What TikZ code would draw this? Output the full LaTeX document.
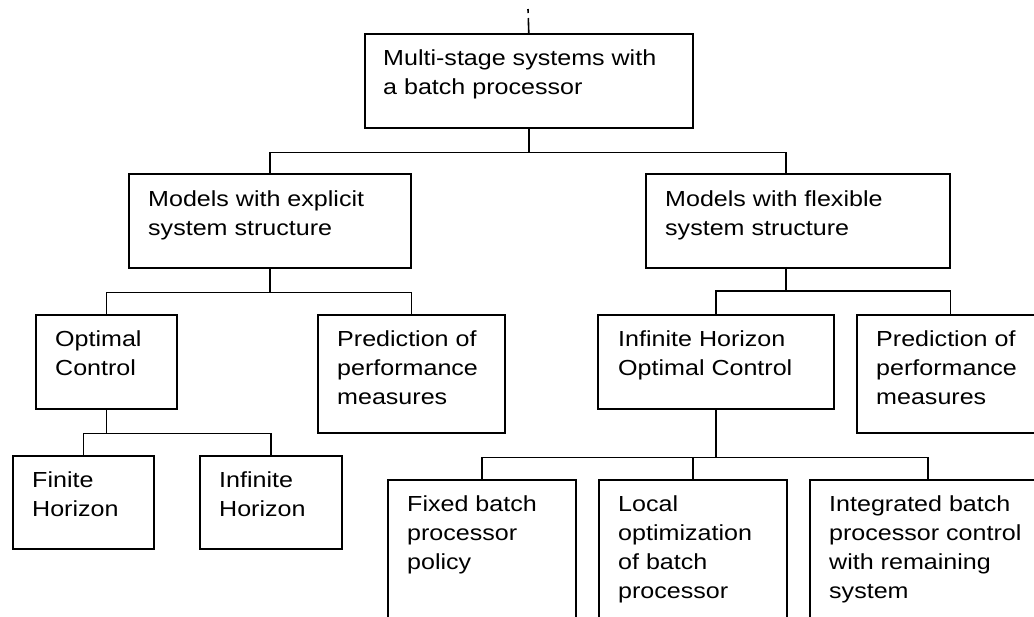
\documentclass[tikz,border=0pt]{standalone}
\usepackage{fontspec}
\setmainfont{Liberation Sans}[FakeStretch=1.15]
\begin{document}
\begin{tikzpicture}[x=1pt,y=-1pt,
  box/.style={draw=black, line width=1.6pt, rectangle, inner sep=0pt, anchor=north west},
  txt/.style={anchor=north west, inner sep=0pt, align=left, font=\fontsize{21.8}{29}\selectfont},
  conn/.style={draw=black, line width=1.6pt}]
\useasboundingbox (0,0) rectangle (1034,617);
\clip (0,0) rectangle (1034,617);
% boxes
\node[box, minimum width=328pt, minimum height=94pt] (root) at (364,33) {};
\node[box, minimum width=282pt, minimum height=94pt] (expl) at (128,173) {};
\node[box, minimum width=304pt, minimum height=94pt] (flex) at (645,173) {};
\node[box, minimum width=141pt, minimum height=94pt] (optc) at (35,314) {};
\node[box, minimum width=187pt, minimum height=118pt] (predA) at (317,314) {};
\node[box, minimum width=236pt, minimum height=94pt] (ihoc) at (597,314) {};
\node[box, minimum width=187pt, minimum height=118pt] (predB) at (856,314) {};
\node[box, minimum width=141pt, minimum height=93pt] (fin) at (12,455) {};
\node[box, minimum width=142pt, minimum height=93pt] (inf) at (199,455) {};
\node[box, minimum width=188pt, minimum height=170pt] (fixed) at (387,479) {};
\node[box, minimum width=188pt, minimum height=170pt] (local) at (598,479) {};
\node[box, minimum width=236pt, minimum height=170pt] (integ) at (809,479) {};
% texts
\node[txt] (rootT) at ([shift={(19,17)}]root.north west) {Multi-stage systems with\\a batch processor};
\node[txt] (explT) at ([shift={(20,18)}]expl.north west) {Models with explicit\\system structure};
\node[txt] (flexT) at ([shift={(20,18)}]flex.north west) {Models with flexible\\system structure};
\node[txt] (optcT) at ([shift={(20,17)}]optc.north west) {Optimal\\Control};
\node[txt] (predAT) at ([shift={(20,17)}]predA.north west) {Prediction of\\performance\\measures};
\node[txt] (ihocT) at ([shift={(21,17)}]ihoc.north west) {Infinite Horizon\\Optimal Control};
\node[txt] (predBT) at ([shift={(20,17)}]predB.north west) {Prediction of\\performance\\measures};
\node[txt] (finT) at ([shift={(20,17)}]fin.north west) {Finite\\Horizon};
\node[txt] (infT) at ([shift={(20,17)}]inf.north west) {Infinite\\Horizon};
\node[txt] (fixedT) at ([shift={(20,17)}]fixed.north west) {Fixed batch\\processor\\policy};
\node[txt] (localT) at ([shift={(20,17)}]local.north west) {Local\\optimization\\of batch\\processor};
\node[txt] (integT) at ([shift={(20,17)}]integ.north west) {Integrated batch\\processor control\\with remaining\\system};
% coordinates
\coordinate (topend) at (528,9);
\coordinate (flexN) at (786,173);
\coordinate (flexS) at (786,267);
% connectors
\draw[conn, dash pattern=on 15pt off 5pt on 4pt off 20pt] (root.north) -- (topend);
\draw[conn] (root.south) -- ++(0,24) coordinate (j1);
\draw[conn] (expl.north) |- (j1) -| (flexN);
\draw[conn] (expl.south) -- ++(0,24) coordinate (j2);
\draw[conn] (optc.north) |- (j2) -| (predA.north);
\draw[conn] (flexS) -- ++(0,24) coordinate (j3);
\draw[conn] (ihoc.north) |- (j3) -| (predB.north);
\draw[conn] (optc.south) -- ++(0,24) coordinate (j4);
\draw[conn] (fin.north) |- (j4) -| (inf.north);
\draw[conn] (ihoc.south) -- ++(0,48) coordinate (j5);
\draw[conn] (fixed.north) |- (j5) -| (integ.north);
\draw[conn] (local.north) -- (local.north |- j5);
\end{tikzpicture}
\end{document}
